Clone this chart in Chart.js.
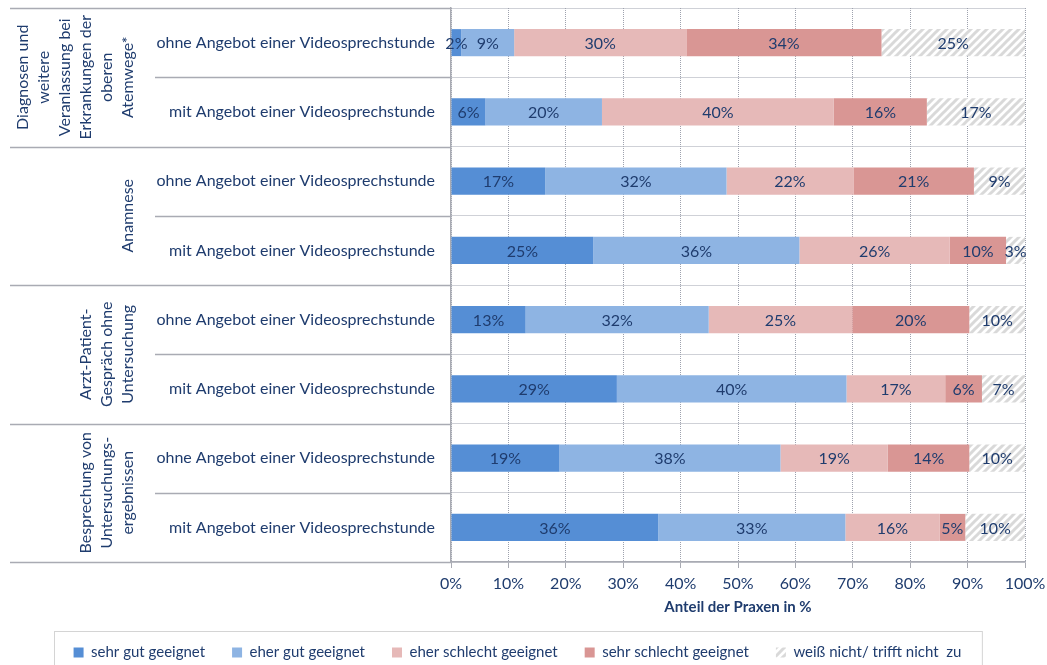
<!DOCTYPE html>
<html>
<head>
<meta charset="utf-8">
<script src="https://cdn.jsdelivr.net/npm/chart.js@4.4.0/dist/chart.umd.min.js"></script>
<style>
html, body { margin: 0; padding: 0; overflow: hidden; background: #fff; }
canvas { display: block; }
</style>
</head>
<body>
<canvas id="chart" width="1047" height="670"></canvas>
<script>
// rows, top to bottom
const rowLabels = [
  'ohne Angebot einer Videosprechstunde', 'mit Angebot einer Videosprechstunde',
  'ohne Angebot einer Videosprechstunde', 'mit Angebot einer Videosprechstunde',
  'ohne Angebot einer Videosprechstunde', 'mit Angebot einer Videosprechstunde',
  'ohne Angebot einer Videosprechstunde', 'mit Angebot einer Videosprechstunde'
];
const groupLabels = [
  ['Diagnosen und', 'weitere', 'Veranlassung bei', 'Erkrankungen der', 'oberen', 'Atemwege*'],
  ['Anamnese'],
  ['Arzt-Patient-', 'Gespräch ohne', 'Untersuchung'],
  ['Besprechung von', 'Untersuchungs-', 'ergebnissen']
];

// bar lengths and the printed labels
const sehrGut      = [1.8, 6, 16.4, 24.8, 13, 28.9, 18.9, 36.1];
const eherGut      = [9.2, 20.3, 31.6, 35.9, 31.9, 40, 38.5, 32.6];
const eherSchlecht = [30, 40.4, 22.1, 26.2, 25, 17.2, 18.7, 16.4];
const sehrSchlecht = [34, 16.2, 21, 9.8, 20.4, 6.4, 14.2, 4.5];
const weissNicht   = [25, 17.1, 8.9, 3.3, 9.7, 7.5, 9.7, 10.4];

const sehrGutLbl      = [2, 6, 17, 25, 13, 29, 19, 36];
const eherGutLbl      = [9, 20, 32, 36, 32, 40, 38, 33];
const eherSchlechtLbl = [30, 40, 22, 26, 25, 17, 19, 16];
const sehrSchlechtLbl = [34, 16, 21, 10, 20, 6, 14, 5];
const weissNichtLbl   = [25, 17, 9, 3, 10, 7, 10, 10];

const xTicks = [0, 10, 20, 30, 40, 50, 60, 70, 80, 90, 100];

const textColor = '#1f3c6e';
const lineGray = '#a9abb3';
const dotGray = '#9ea2ae';
const fontName = 'Lato';

function hatch() {
  const c = document.createElement('canvas');
  c.width = 8; c.height = 8;
  const g = c.getContext('2d');
  g.fillStyle = '#fff';
  g.fillRect(0, 0, 8, 8);
  g.strokeStyle = '#d9d9d9';
  g.lineWidth = 3;
  g.beginPath();
  g.moveTo(0, 8); g.lineTo(8, 0);
  g.moveTo(-2, 2); g.lineTo(2, -2);
  g.moveTo(6, 10); g.lineTo(10, 6);
  g.stroke();
  return g.createPattern(c, 'repeat');
}

const extras = {
  id: 'extras',
  afterDatasetsDraw(chart) {
    const ctx = chart.ctx;
    ctx.save();
    ctx.font = '16px ' + fontName;
    ctx.fillStyle = textColor;
    ctx.textAlign = 'center';
    ctx.textBaseline = 'middle';
    chart.data.datasets.forEach((ds, di) => {
      chart.getDatasetMeta(di).data.forEach((bar, i) => {
        const p = bar.getProps(['x', 'base', 'y'], true);
        ctx.fillText(ds.shown[i] + '%', (p.x + p.base) / 2, p.y + 1);
      });
    });
    ctx.restore();
  },
  afterDraw(chart) {
    const ctx = chart.ctx;
    const ys = chart.scales.y;
    const left = chart.chartArea.left;
    const half = (ys.getPixelForValue(1) - ys.getPixelForValue(0)) / 2;
    const top = ys.getPixelForValue(0) - half;
    ctx.save();
    // separators left of the plot
    ctx.strokeStyle = lineGray;
    ctx.lineWidth = 1.5;
    for (let i = 0; i <= rowLabels.length; i++) {
      const y = Math.round(top + i * 2 * half) + 0.5;
      ctx.beginPath();
      ctx.moveTo(i % 2 === 0 ? 10 : 155, y);
      ctx.lineTo(left, y);
      ctx.stroke();
    }
    // rotated group labels
    ctx.font = '16px ' + fontName;
    ctx.fillStyle = textColor;
    ctx.textAlign = 'center';
    ctx.textBaseline = 'middle';
    groupLabels.forEach((lines, g) => {
      const cy = ys.getPixelForValue(2 * g) + half;
      lines.forEach((txt, j) => {
        const x = 128 - (lines.length - 1 - j) * 21;
        ctx.save();
        ctx.translate(x, cy);
        ctx.rotate(-Math.PI / 2);
        ctx.fillText(txt, 0, 0);
        ctx.restore();
      });
    });
    // legend frame
    const hb = chart.legend.legendHitBoxes;
    if (hb && hb.length) {
      const l = hb[0].left - 20;
      const r = hb[hb.length - 1].left + hb[hb.length - 1].width + 20;
      const t = hb[0].top - 14;
      ctx.strokeStyle = '#d4d4d4';
      ctx.lineWidth = 1;
      ctx.strokeRect(Math.round(l) + 0.5, Math.round(t) + 0.5, r - l, chart.height);
    }
    ctx.restore();
  }
};

const ctx = document.getElementById('chart');

new Chart(ctx, {
  type: 'bar',
  data: {
    labels: rowLabels,
    datasets: [
      { label: 'sehr gut geeignet', data: sehrGut, shown: sehrGutLbl, backgroundColor: '#558ed5' },
      { label: 'eher gut geeignet', data: eherGut, shown: eherGutLbl, backgroundColor: '#8eb4e3' },
      { label: 'eher schlecht geeignet', data: eherSchlecht, shown: eherSchlechtLbl, backgroundColor: '#e6b9b8' },
      { label: 'sehr schlecht geeignet', data: sehrSchlecht, shown: sehrSchlechtLbl, backgroundColor: '#d99694' },
      { label: 'weiß nicht/ trifft nicht  zu', data: weissNicht, shown: weissNichtLbl, backgroundColor: hatch() }
    ]
  },
  options: {
    indexAxis: 'y',
    responsive: false,
    animation: false,
    layout: { padding: { left: 10, right: 22, top: 8, bottom: 0 } },
    datasets: { bar: { categoryPercentage: 1, barPercentage: 0.39, borderWidth: 0 } },
    scales: {
      x: {
        stacked: true,
        min: 0,
        max: 100,
        afterBuildTicks(s) { s.ticks = xTicks.map(v => ({ value: v })); },
        afterFit(s) {
          s.height = s.chart.height - s.chart.legend.height - 562;
          s.paddingLeft = 0;
          s.paddingRight = 0;
        },
        ticks: {
          color: textColor,
          font: { family: fontName, size: 16 },
          padding: 6,
          callback: v => v + '%'
        },
        grid: { color: dotGray, tickLength: 6, tickColor: lineGray, tickBorderDash: [] },
        border: { color: lineGray, width: 1.5, dash: [1, 1] },
        title: {
          display: true,
          text: 'Anteil der Praxen in %',
          color: textColor,
          font: { family: fontName, size: 15, weight: 'bold' },
          padding: { top: 4, bottom: 2 }
        }
      },
      y: {
        stacked: true,
        afterFit(s) {
          s.width = 441;
          s.paddingTop = 0;
          s.paddingBottom = 0;
        },
        ticks: {
          color: textColor,
          font: { family: fontName, size: 16 },
          padding: 16
        },
        grid: { color: dotGray, drawTicks: false },
        border: { color: lineGray, width: 1.5, dash: [1, 1] }
      }
    },
    plugins: {
      legend: {
        position: 'bottom',
        labels: {
          color: textColor,
          font: { family: fontName, size: 15 },
          boxWidth: 10,
          boxHeight: 10,
          padding: 27
        }
      },
      tooltip: { enabled: false }
    }
  },
  plugins: [extras]
});
</script>
</body>
</html>
